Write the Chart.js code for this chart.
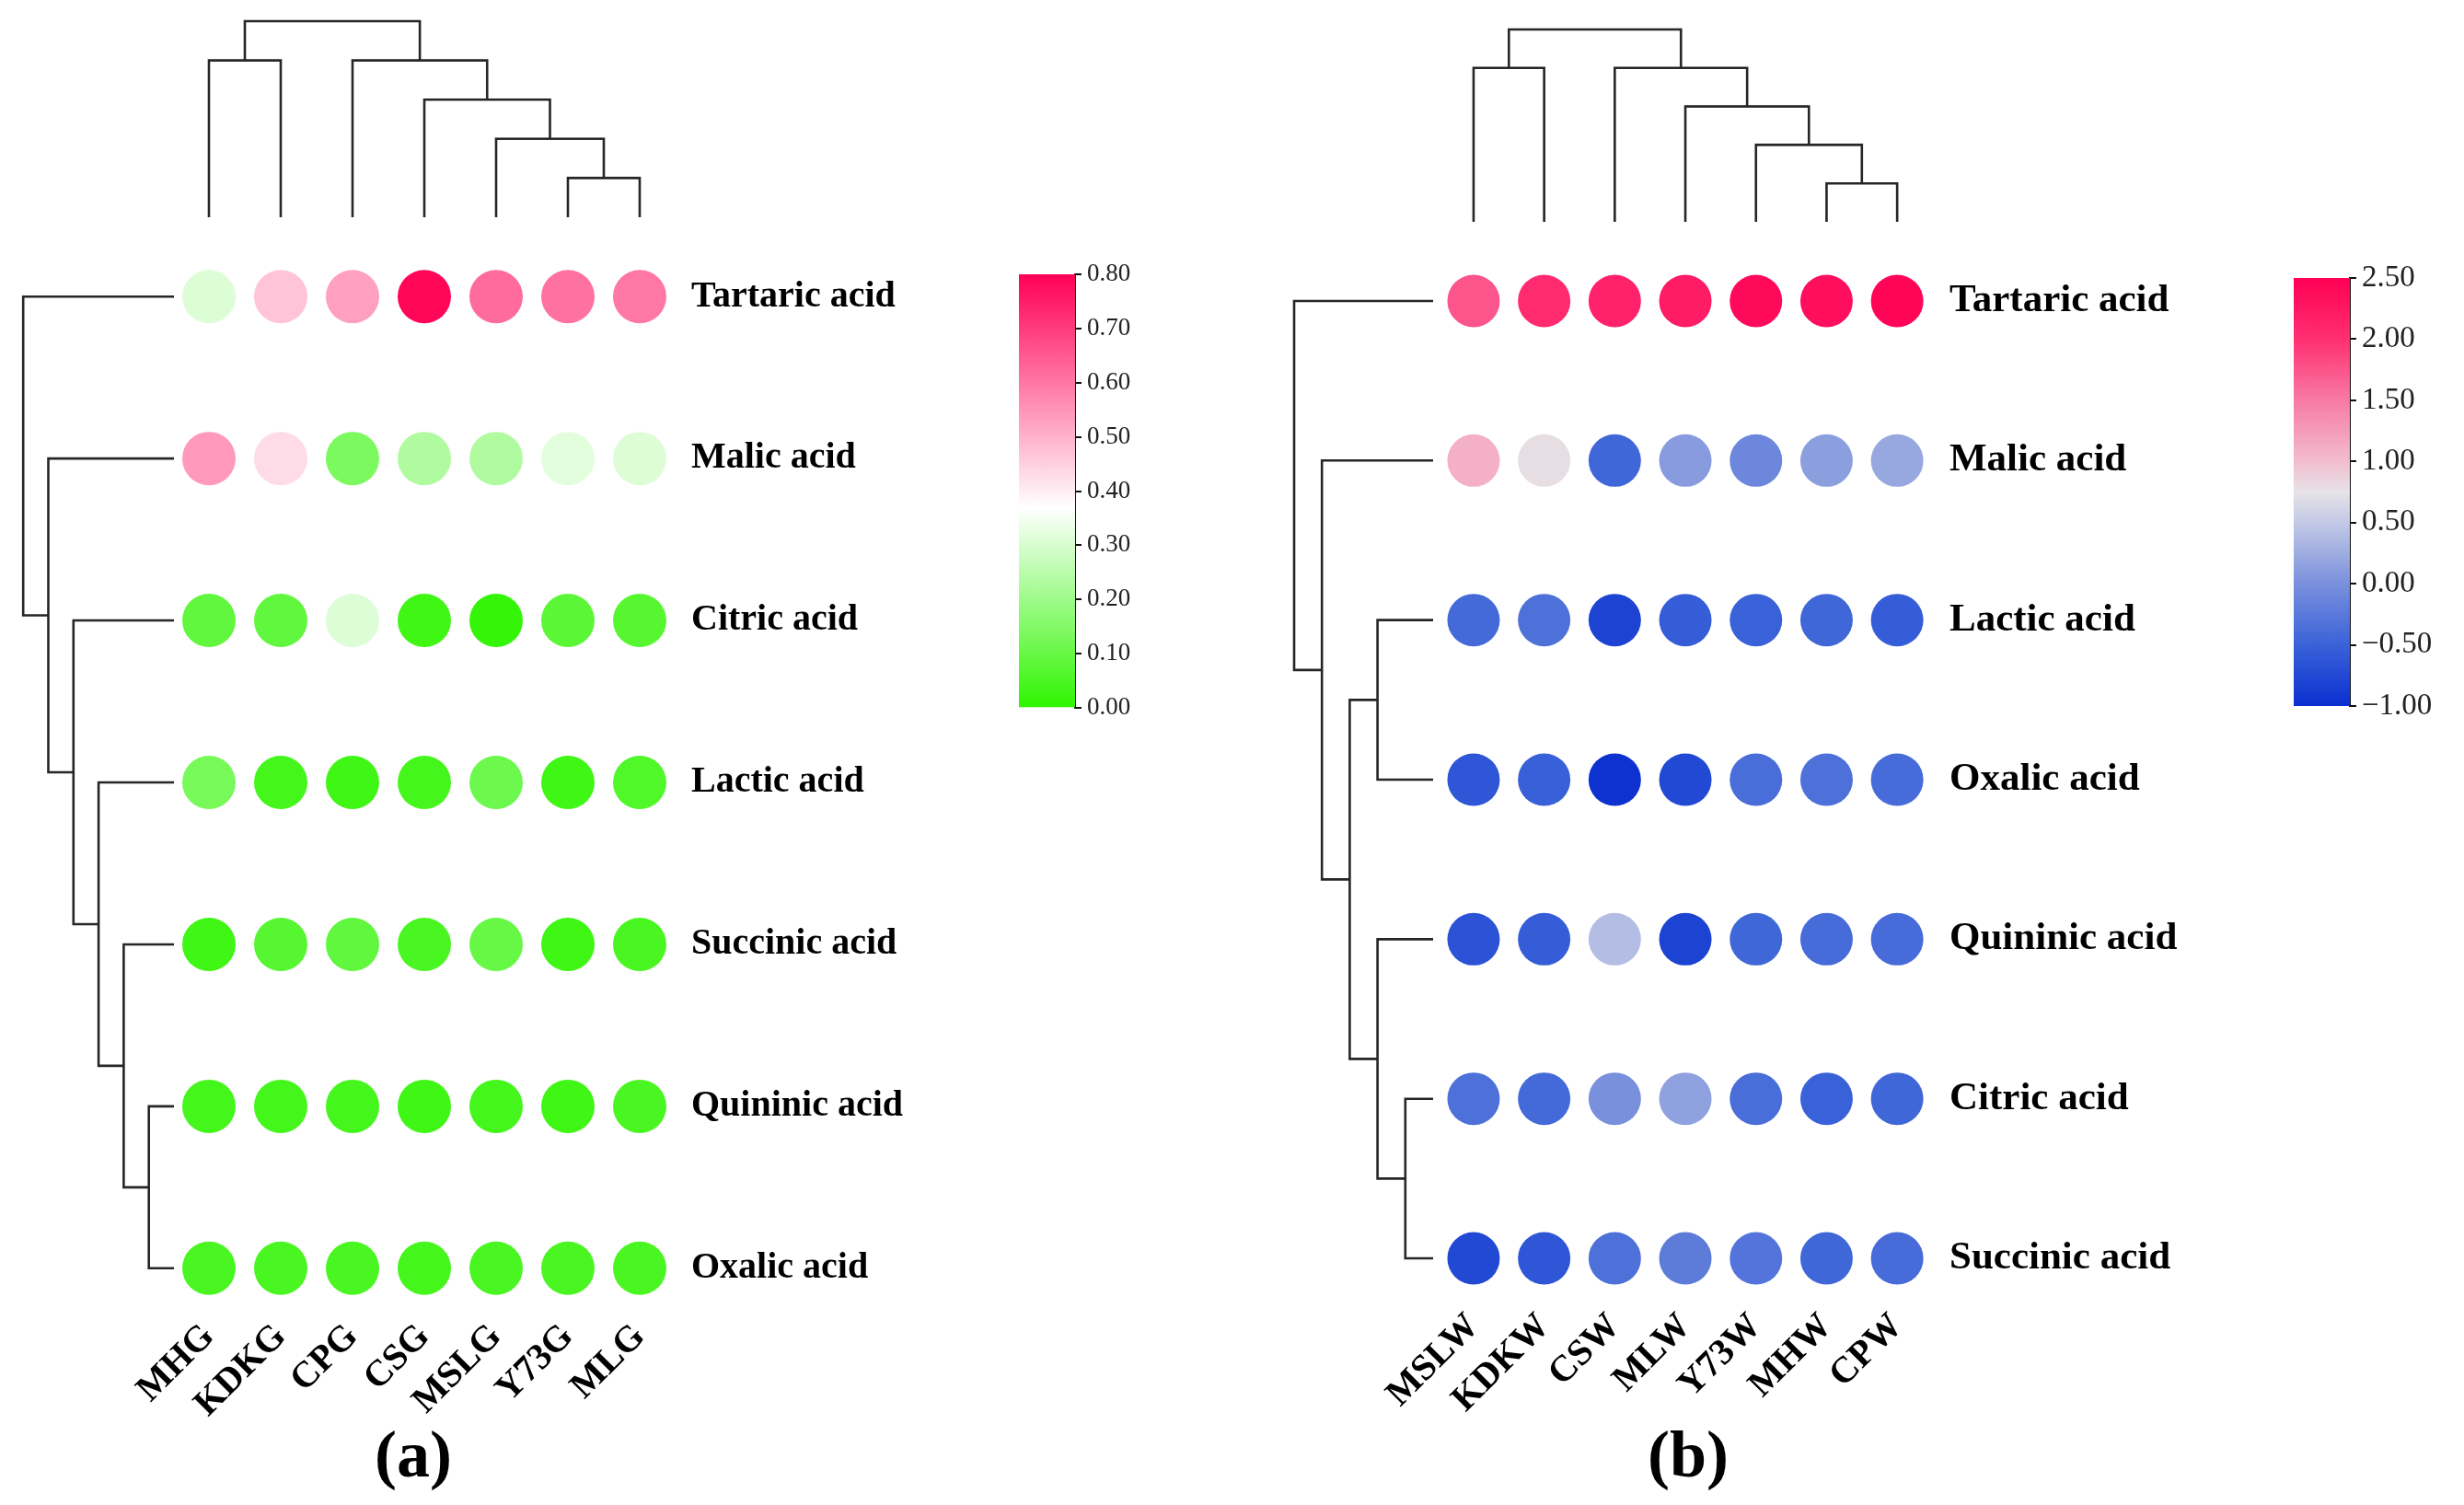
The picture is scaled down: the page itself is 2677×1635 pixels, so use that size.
<!DOCTYPE html>
<html>
<head>
<meta charset="utf-8">
<script src="https://cdn.jsdelivr.net/npm/chart.js@4"></script>
<style>
  body { margin: 0; background: #fff; }
  canvas { position: absolute; }
</style>
</head>
<body>
<canvas id="heatA" width="1070" height="1635" style="left:0;top:0"></canvas>
<canvas id="barA" width="220" height="820" style="left:1090px;top:0"></canvas>
<canvas id="heatB" width="1130" height="1635" style="left:1340px;top:0"></canvas>
<canvas id="barB" width="207" height="820" style="left:2470px;top:0"></canvas>
<script>
// panel (a)
const colsA = ["MHG", "KDKG", "CPG", "CSG", "MSLG", "Y73G", "MLG"];
const rowsA = ["Tartaric acid", "Malic acid", "Citric acid", "Lactic acid", "Succinic acid", "Quininic acid", "Oxalic acid"];
const valuesA = [
  [0.31, 0.47, 0.53, 0.79, 0.62, 0.61, 0.60],
  [0.54, 0.43, 0.14, 0.23, 0.23, 0.32, 0.31],
  [0.09, 0.09, 0.31, 0.03, 0.01, 0.08, 0.07],
  [0.13, 0.04, 0.03, 0.04, 0.11, 0.03, 0.06],
  [0.03, 0.07, 0.09, 0.05, 0.10, 0.03, 0.05],
  [0.04, 0.04, 0.04, 0.03, 0.04, 0.03, 0.05],
  [0.05, 0.05, 0.05, 0.04, 0.05, 0.05, 0.05]
];
// merges: [child, child, height]; leaves are 0..6, merge k becomes 7+k
const colTreeA = [[5, 6, 1], [4, 7, 2], [3, 8, 3], [0, 1, 4], [2, 9, 4], [10, 11, 5]];
const rowTreeA = [[5, 6, 1], [4, 7, 2], [3, 8, 3], [2, 9, 4], [1, 10, 5], [0, 11, 6]];
const ticksA = [0, 0.8, 0.1];

// panel (b)
const colsB = ["MSLW", "KDKW", "CSW", "MLW", "Y73W", "MHW", "CPW"];
const rowsB = ["Tartaric acid", "Malic acid", "Lactic acid", "Oxalic acid", "Quininic acid", "Citric acid", "Succinic acid"];
const valuesB = [
  [1.75, 2.05, 2.15, 2.20, 2.40, 2.35, 2.45],
  [1.10, 0.78, -0.45, 0.10, -0.10, 0.12, 0.20],
  [-0.42, -0.35, -0.80, -0.55, -0.50, -0.45, -0.55],
  [-0.62, -0.52, -0.97, -0.75, -0.38, -0.35, -0.40],
  [-0.65, -0.55, 0.40, -0.80, -0.45, -0.40, -0.40],
  [-0.35, -0.42, 0.00, 0.15, -0.38, -0.50, -0.45],
  [-0.75, -0.62, -0.35, -0.22, -0.30, -0.45, -0.40]
];
const colTreeB = [[5, 6, 1], [4, 7, 2], [3, 8, 3], [0, 1, 4], [2, 9, 4], [10, 11, 5]];
const rowTreeB = [[5, 6, 1], [2, 3, 2], [4, 7, 2], [8, 9, 3], [1, 10, 4], [0, 11, 5]];
const ticksB = [-1, 2.5, 0.5];

const cmapA = [[0, "#2ef500"], [0.37, "#ffffff"], [0.8, "#ff0055"]];
const cmapB = [[-1, "#0a2fd0"], [-0.5, "#3a62d8"], [0, "#7990dc"], [0.5, "#c3c9e6"], [0.75, "#e6e3e6"],
               [1.0, "#f2bdd0"], [1.5, "#f77aa4"], [2.0, "#ff2f72"], [2.5, "#ff0055"]];

const SERIF = "'Liberation Serif', 'Times New Roman', serif";

function hexRgb(h) {
  return [1, 3, 5].map((i) => parseInt(h.slice(i, i + 2), 16));
}

function colorAt(cmap, v) {
  if (v <= cmap[0][0]) return cmap[0][1];
  for (let i = 1; i < cmap.length; i++) {
    if (v <= cmap[i][0]) {
      const t = (v - cmap[i - 1][0]) / (cmap[i][0] - cmap[i - 1][0]);
      const a = hexRgb(cmap[i - 1][1]), b = hexRgb(cmap[i][1]);
      const c = a.map((x, k) => Math.round(x + (b[k] - x) * t));
      return "rgb(" + c.join(",") + ")";
    }
  }
  return cmap[cmap.length - 1][1];
}

function drawTree(ctx, merges, leafPos, depthPos, vertical) {
  const n = merges.length + 1;
  const pos = [], hgt = [];
  for (let i = 0; i < n; i++) {
    pos[i] = leafPos(i);
    hgt[i] = 0;
  }
  merges.forEach(([a, b, h], k) => {
    pos[n + k] = (pos[a] + pos[b]) / 2;
    hgt[n + k] = h;
    const da = depthPos(hgt[a]), db = depthPos(hgt[b]), dm = depthPos(h);
    ctx.beginPath();
    if (vertical) {
      ctx.moveTo(pos[a], da); ctx.lineTo(pos[a], dm); ctx.lineTo(pos[b], dm); ctx.lineTo(pos[b], db);
    } else {
      ctx.moveTo(da, pos[a]); ctx.lineTo(dm, pos[a]); ctx.lineTo(dm, pos[b]); ctx.lineTo(db, pos[b]);
    }
    ctx.stroke();
  });
}

const dendroPlugin = {
  id: "dendro",
  afterDraw(chart, args, opts) {
    const { ctx, chartArea, scales } = chart;
    ctx.save();
    ctx.strokeStyle = "#262626";
    ctx.lineWidth = 2.6;
    drawTree(ctx, opts.colTree, (i) => scales.x.getPixelForValue(i),
      (h) => chartArea.top - opts.colGap - h * opts.colStep, true);
    drawTree(ctx, opts.rowTree, (i) => scales.y.getPixelForValue(i),
      (h) => chartArea.left - opts.rowGap - h * opts.rowStep, false);
    ctx.fillStyle = "#000";
    ctx.font = "bold 72px " + SERIF;
    ctx.textAlign = "center";
    ctx.textBaseline = "alphabetic";
    ctx.fillText(opts.label, (chartArea.left + chartArea.right) / 2 + opts.labelDx, opts.labelY);
    ctx.restore();
  }
};

function heatChart(id, cols, rows, values, cmap, colTree, rowTree, o) {
  const points = [];
  rows.forEach((r, j) => cols.forEach((c, i) => points.push({ x: i, y: j, v: values[j][i] })));
  const font = (size) => ({ family: SERIF, weight: "bold", size: size });
  return new Chart(document.getElementById(id), {
    type: "scatter",
    data: {
      datasets: [{
        data: points,
        pointRadius: o.radius,
        pointHoverRadius: o.radius,
        borderWidth: 0,
        clip: false,
        backgroundColor: (ctx) => (ctx.raw ? colorAt(cmap, ctx.raw.v) : "#fff")
      }]
    },
    options: {
      responsive: false,
      animation: false,
      events: [],
      layout: { padding: { left: o.padLeft, top: o.padTop, right: 0, bottom: 0 } },
      plugins: {
        legend: { display: false },
        tooltip: { enabled: false },
        dendro: {
          colTree: colTree, rowTree: rowTree,
          colGap: o.colGap, colStep: o.colStep, rowGap: o.rowGap, rowStep: o.rowStep,
          label: o.label, labelDx: o.labelDx, labelY: 1604
        }
      },
      scales: {
        x: {
          type: "linear", min: -0.5, max: 6.5,
          grid: { display: false, drawTicks: false },
          border: { display: false },
          afterBuildTicks: (s) => { s.ticks = cols.map((_, i) => ({ value: i })); },
          afterFit: (s) => { s.height = o.xAxisH; },
          ticks: {
            autoSkip: false, maxRotation: 45, minRotation: 45, padding: o.xPad,
            color: "#000", font: font(o.colFont),
            callback: (v) => cols[v]
          }
        },
        y: {
          type: "linear", position: "right", reverse: true, min: -0.2, max: 6.2,
          grid: { display: false, drawTicks: false },
          border: { display: false },
          afterBuildTicks: (s) => { s.ticks = rows.map((_, j) => ({ value: j })); },
          afterFit: (s) => { s.width = o.yAxisW; },
          ticks: {
            autoSkip: false, padding: o.yPad,
            color: "#000", font: font(o.rowFont),
            callback: (v) => rows[v]
          }
        }
      }
    },
    plugins: [dendroPlugin]
  });
}

function gradientFor(chart, cmap, lo, hi) {
  if (!chart.chartArea) return null;
  const ys = chart.scales.y;
  const g = chart.ctx.createLinearGradient(0, ys.getPixelForValue(lo), 0, ys.getPixelForValue(hi));
  cmap.forEach(([v, c]) => g.addColorStop((v - lo) / (hi - lo), c));
  return g;
}

function colorbar(id, cmap, ticks, o) {
  const [lo, hi, step] = ticks;
  return new Chart(document.getElementById(id), {
    type: "bar",
    data: {
      labels: [""],
      datasets: [{
        data: [[lo, hi]],
        barPercentage: 1,
        categoryPercentage: 1,
        borderWidth: 0,
        backgroundColor: (ctx) => gradientFor(ctx.chart, cmap, lo, hi)
      }]
    },
    options: {
      responsive: false,
      animation: false,
      events: [],
      layout: { padding: { left: o.padLeft, top: o.padTop, bottom: o.padBottom, right: 0 } },
      plugins: { legend: { display: false }, tooltip: { enabled: false } },
      scales: {
        x: { display: false },
        y: {
          position: "right", min: lo, max: hi,
          afterFit: (s) => { s.width = o.axisW; },
          grid: { display: true, drawOnChartArea: false, drawTicks: true, tickLength: 7, color: "#111", lineWidth: 2 },
          border: { display: true, color: "#111", width: 2 },
          ticks: {
            stepSize: step, padding: 6, color: "#222",
            font: { family: SERIF, size: o.font },
            callback: (v) => (v < -1e-9 ? "\u2212" : "") + Math.abs(v).toFixed(2)
          }
        }
      }
    }
  });
}

heatChart("heatA", colsA, rowsA, valuesA, cmapA, colTreeA, rowTreeA, {
  radius: 29, padLeft: 188, padTop: 287, xAxisH: 222, yAxisW: 336,
  xPad: 16, yPad: 17, colFont: 40, rowFont: 40,
  colGap: 51, colStep: 42.6, rowGap: -1, rowStep: 27.3,
  label: "(a)", labelDx: -12
});
colorbar("barA", cmapA, ticksA, { padLeft: 17, padTop: 298, padBottom: 51, axisW: 142, font: 27 });

heatChart("heatB", colsB, rowsB, valuesB, cmapB, colTreeB, rowTreeB, {
  radius: 28.5, padLeft: 222.6, padTop: 292.3, xAxisH: 233.3, yAxisW: 370.5,
  xPad: 16, yPad: 18.5, colFont: 40, rowFont: 43,
  colGap: 51.3, colStep: 41.8, rowGap: 5.6, rowStep: 30.2,
  label: "(b)", labelDx: 3
});
colorbar("barB", cmapB, ticksB, { padLeft: 22, padTop: 302, padBottom: 53, axisW: 124, font: 33 });
</script>
</body>
</html>
